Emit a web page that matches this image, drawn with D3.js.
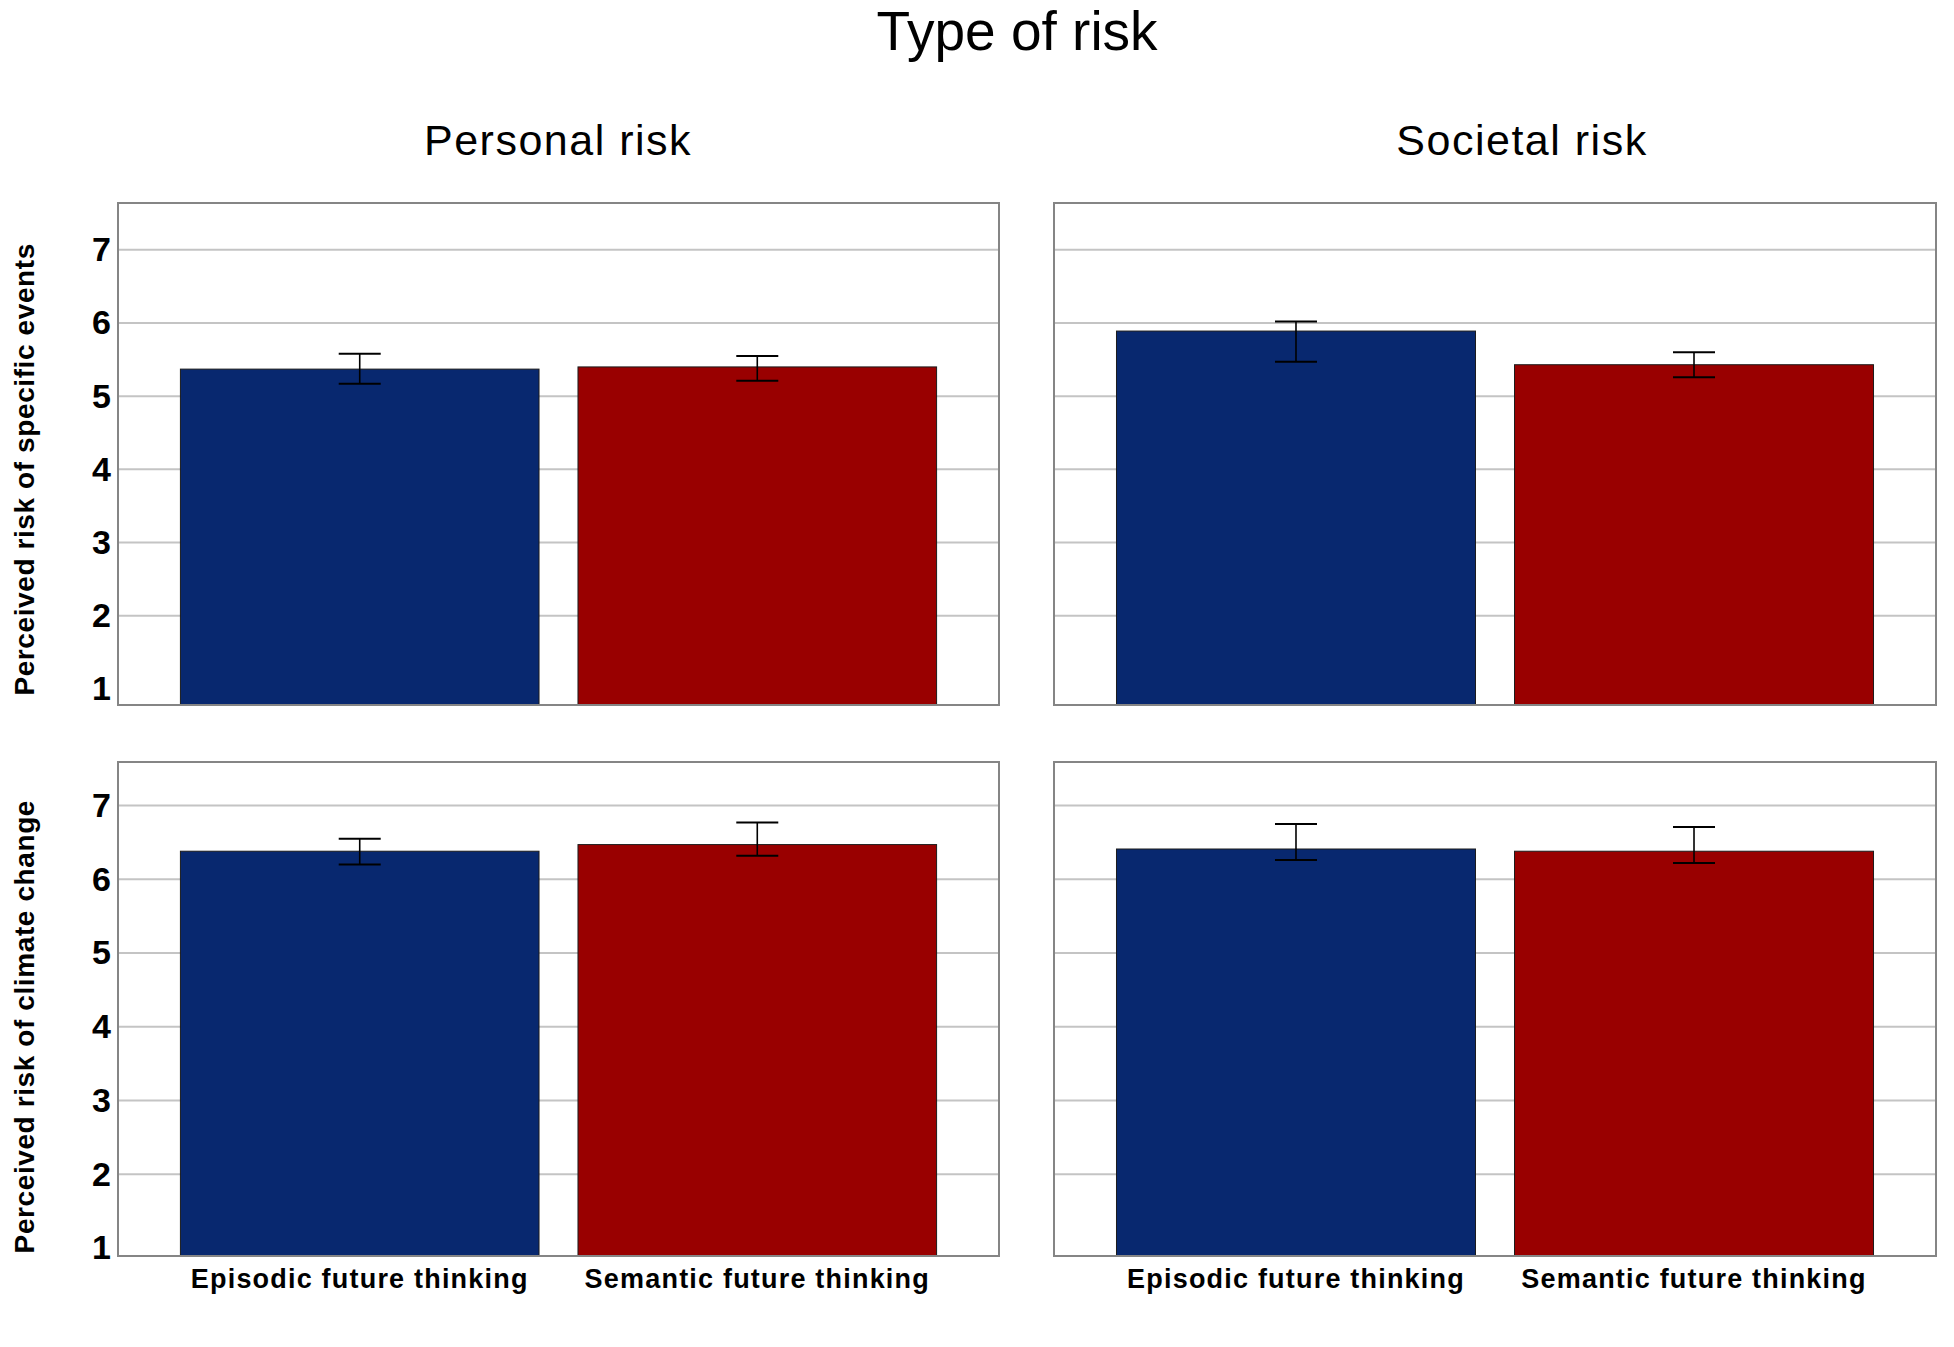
<!DOCTYPE html>
<html>
<head>
<meta charset="utf-8">
<script src="https://cdn.jsdelivr.net/npm/d3@7"></script>
<style>
  html, body { margin: 0; padding: 0; background: #fff; }
  svg { display: block; }
  text { font-family: "Liberation Sans", Arial, sans-serif; fill: #000; }
</style>
</head>
<body>
<svg id="chart" width="1954" height="1347"></svg>
<script>
// ---- data ----
const chartTitle = "Type of risk";
const columns = ["Personal risk", "Societal risk"];
const rows = ["Perceived risk of specific events", "Perceived risk of climate change"];
const conditions = ["Episodic future thinking", "Semantic future thinking"];
const yTicks = [1, 2, 3, 4, 5, 6, 7];

// means [row][column][condition]
const means = [
  [[5.37, 5.40], [5.89, 5.43]],
  [[6.38, 6.47], [6.41, 6.38]]
];
const errLow = [
  [[5.17, 5.21], [5.47, 5.26]],
  [[6.20, 6.32], [6.26, 6.22]]
];
const errHigh = [
  [[5.58, 5.55], [6.02, 5.60]],
  [[6.55, 6.77], [6.75, 6.71]]
];

const colors = ["#08286f", "#990000"];

// ---- layout ----
const colX = [[118, 999], [1054, 1936]];
const colTitleX = [558, 1522];
const rowY = [[203, 705], [762, 1256]];
const rowDomain = [[0.78, 7.64], [0.89, 7.59]];

const svg = d3.select("#chart");

svg.append("text")
  .attr("x", 1017).attr("y", 50)
  .attr("text-anchor", "middle")
  .style("font-size", "55px")
  .text(chartTitle);

columns.forEach((c, ci) => {
  svg.append("text")
    .attr("x", colTitleX[ci]).attr("y", 155)
    .attr("text-anchor", "middle")
    .style("font-size", "43px")
    .style("letter-spacing", "1.5px")
    .text(c);
});

rows.forEach((r, ri) => {
  const y = d3.scaleLinear().domain(rowDomain[ri]).range([rowY[ri][1], rowY[ri][0]]);
  const cy = (y(1) + y(7)) / 2;
  svg.append("text")
    .attr("transform", `translate(34,${cy}) rotate(-90)`)
    .attr("text-anchor", "middle")
    .style("font-size", "28px")
    .style("font-weight", "bold")
    .style("letter-spacing", "0.6px")
    .text(r);

  columns.forEach((c, ci) => {
    const x = d3.scaleBand().domain(conditions)
      .range(colX[ci]).paddingInner(0.098).paddingOuter(0.157);
    const g = svg.append("g");

    // gridlines
    g.selectAll("line.grid").data(yTicks.filter(t => t > 1)).join("line")
      .attr("x1", colX[ci][0]).attr("x2", colX[ci][1])
      .attr("y1", d => y(d)).attr("y2", d => y(d))
      .attr("stroke", "#c4c4c4").attr("stroke-width", 2);

    // bars
    g.selectAll("rect.bar").data(conditions).join("rect")
      .attr("x", d => x(d))
      .attr("width", x.bandwidth())
      .attr("y", (d, i) => y(means[ri][ci][i]))
      .attr("height", (d, i) => rowY[ri][1] - y(means[ri][ci][i]))
      .attr("fill", (d, i) => colors[i])
      .attr("stroke", "#1c1c1c").attr("stroke-width", 1);

    // error bars
    const cap = 21;
    conditions.forEach((d, i) => {
      const cx = x(d) + x.bandwidth() / 2;
      g.append("line").attr("x1", cx).attr("x2", cx)
        .attr("y1", y(errLow[ri][ci][i])).attr("y2", y(errHigh[ri][ci][i]))
        .attr("stroke", "#000").attr("stroke-width", 1.6);
      [errLow[ri][ci][i], errHigh[ri][ci][i]].forEach(v => {
        g.append("line").attr("x1", cx - cap).attr("x2", cx + cap)
          .attr("y1", y(v)).attr("y2", y(v))
          .attr("stroke", "#000").attr("stroke-width", 2);
      });
    });

    // frame
    g.append("rect")
      .attr("x", colX[ci][0]).attr("y", rowY[ri][0])
      .attr("width", colX[ci][1] - colX[ci][0])
      .attr("height", rowY[ri][1] - rowY[ri][0])
      .attr("fill", "none").attr("stroke", "#858585").attr("stroke-width", 2);

    // y tick labels (left column only)
    if (ci === 0) {
      const axis = d3.axisLeft(y).tickValues(yTicks).tickSize(0).tickPadding(7).tickFormat(d3.format("d"));
      const ag = svg.append("g").attr("transform", `translate(${colX[ci][0]},0)`).call(axis);
      ag.select(".domain").remove();
      ag.selectAll("text")
        .style("font-size", "34px").style("font-weight", "bold")
        .style("font-family", "'Liberation Sans', Arial, sans-serif")
        .attr("fill", "#000");
    }

    // category labels (bottom row only)
    if (ri === rows.length - 1) {
      g.selectAll("text.cat").data(conditions).join("text")
        .attr("x", d => x(d) + x.bandwidth() / 2)
        .attr("y", 1288)
        .attr("text-anchor", "middle")
        .style("font-size", "27px").style("font-weight", "bold")
        .style("letter-spacing", "1.2px")
        .text(d => d);
    }
  });
});
</script>
</body>
</html>
